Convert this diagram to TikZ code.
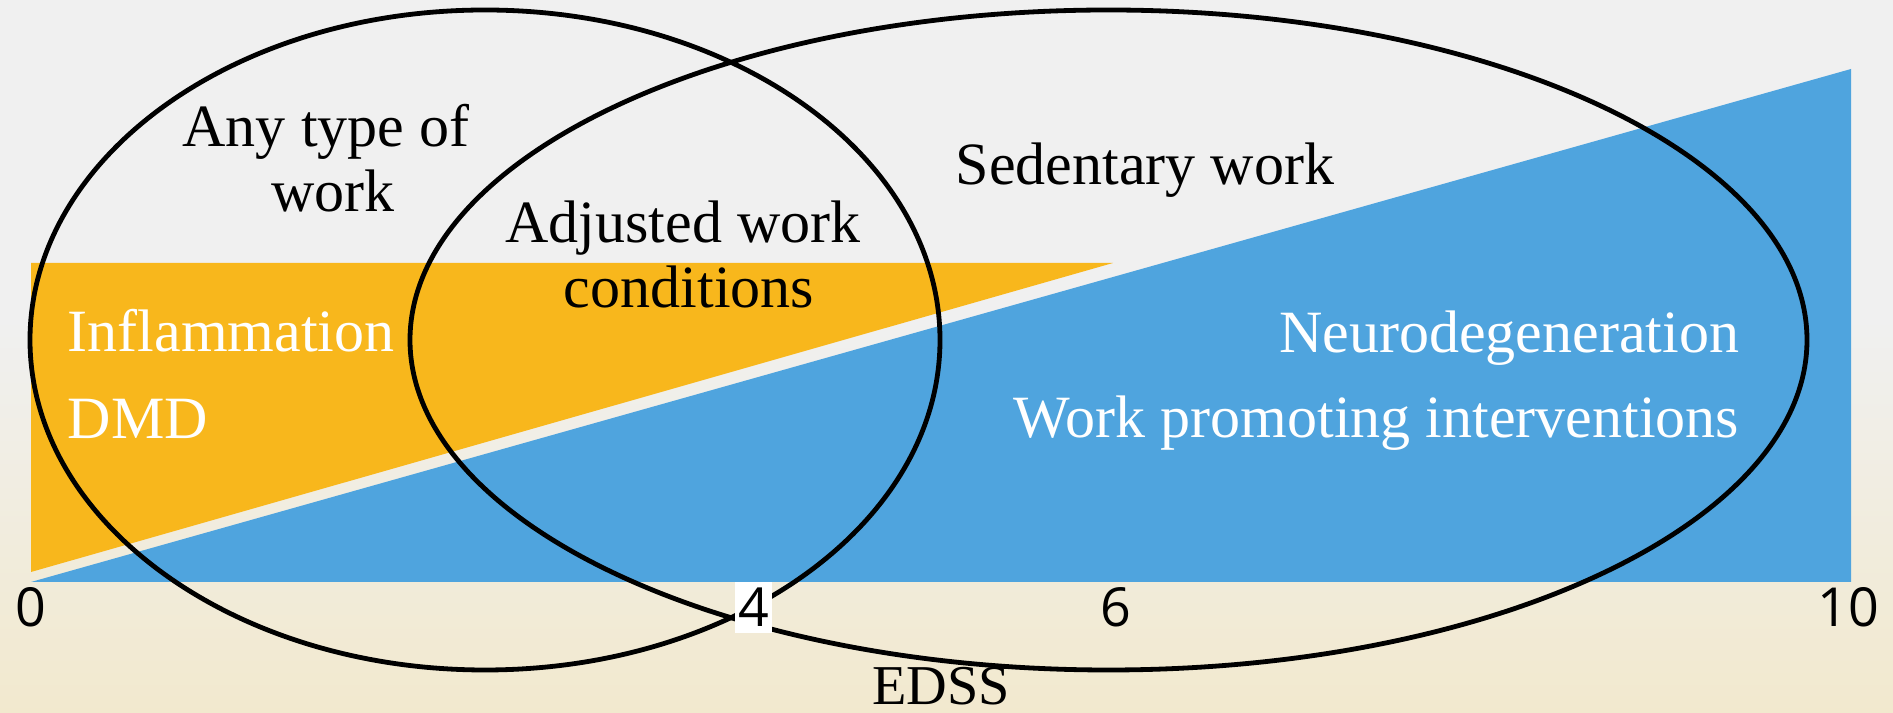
\documentclass[tikz,border=0pt]{standalone}
\usepackage{fontspec}
\setmainfont{Liberation Serif}
\newfontfamily\digitfont{Open Sans}
\definecolor{bggrey}{HTML}{F0F0F0}
\definecolor{bgbeige}{HTML}{F2E9CE}
\definecolor{orangefill}{HTML}{F8B71C}
\definecolor{bluefill}{HTML}{4FA4DE}
\tikzset{
  ring/.style={draw=black, line width=0.048cm},
  darklabel/.style={font=\fontsize{17.07pt}{20pt}\selectfont, text=black, inner sep=0pt, anchor=base},
  lightlabel/.style={font=\fontsize{17.07pt}{20pt}\selectfont, text=white, inner sep=0pt},
  ticklabel/.style={font=\digitfont\fontsize{15.3pt}{18pt}\selectfont, text=black, inner sep=0pt, anchor=base}
}
\begin{document}
\begin{tikzpicture}[x=0.01cm, y=-0.01cm]
\useasboundingbox (0,0) rectangle (1893,713);
% background
\fill[bggrey] (0,0) rectangle (1893,320);
\shade[top color=bggrey, bottom color=bgbeige] (0,319) rectangle (1893,713);
% orange and blue areas
\fill[orangefill] (31,263) -- (1113,263) -- (31,572) -- cycle;
\fill[bluefill] (31,582) -- (1851,69) -- (1851,582) -- cycle;
% ellipses
\draw[ring] (485,340) ellipse [x radius=455, y radius=-330];
\draw[ring] (1108.5,340) ellipse [x radius=698.5, y radius=-330];
% labels
\node[darklabel] (anytype) at (326,147) {Any type of};
\node[darklabel] (anywork) at (333,212) {work};
\node[darklabel] (adjusted) at (683,243) {Adjusted work};
\node[darklabel] (conditions) at (689,308) {conditions};
\node[darklabel] (sedentary) at (1145,185) {Sedentary work};
\node[lightlabel, anchor=base west] (inflam) at (67,352) {Inflammation};
\node[lightlabel, anchor=base west] (dmd) at (67,439) {DMD};
\node[lightlabel, anchor=base east] (neuro) at (1740,353) {Neurodegeneration};
\node[lightlabel, anchor=base east] (wpi) at (1740,438) {Work promoting interventions};
\node[darklabel, font=\fontsize{16pt}{19pt}\selectfont] (edss) at (941,705) {EDSS};
% axis ticks
\node[ticklabel] (t0) at (31,627) {0};
\node[ticklabel] (t6) at (1116,627) {6};
\node[ticklabel] (t10) at (1848,627) {10};
\node[ticklabel, anchor=center, fill=white, minimum width=0.37cm, minimum height=0.51cm] (t4) at (753.5,607.5) {4};
\end{tikzpicture}
\end{document}
